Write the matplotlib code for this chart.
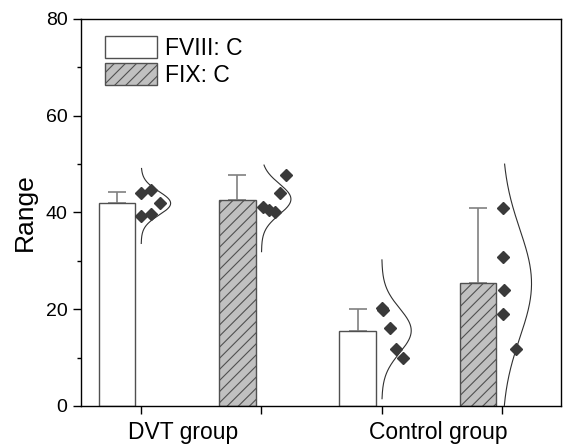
import numpy as np
import matplotlib
matplotlib.use("Agg")
import matplotlib.pyplot as plt

plt.rcParams['font.family'] = ['Liberation Sans', 'DejaVu Sans']
plt.rcParams['hatch.linewidth'] = 0.8

# data
groups = ['DVT group', 'Control group']
series = ['FVIII: C', 'FIX: C']
bar_mean = [41.9, 42.6, 15.5, 25.4]          # FVIII DVT, FIX DVT, FVIII ctrl, FIX ctrl
bar_sd = [2.3, 5.1, 4.5, 15.5]
pts_dvt_fviii = [44.0, 44.6, 42.0, 39.3, 39.6]
pts_dvt_fix = [41.2, 40.6, 40.2, 44.0, 47.8]
pts_ctl_fviii = [20.2, 19.8, 16.1, 11.8, 10.0]
pts_ctl_fix = [40.9, 30.9, 24.0, 19.0, 11.8]
jit_dvt_fviii = [0.0, 0.08, 0.16, 0.0, 0.08]
jit_dvt_fix = [0.01, 0.06, 0.11, 0.15, 0.2]
jit_ctl_fviii = [0.0, 0.01, 0.07, 0.12, 0.18]
jit_ctl_fix = [0.01, 0.01, 0.02, 0.01, 0.12]
curve_lo = [33.6, 31.9, 1.5, 0.0]
curve_hi = [49.1, 49.8, 30.2, 50.0]

points = [pts_dvt_fviii, pts_dvt_fix, pts_ctl_fviii, pts_ctl_fix]
jitter = [jit_dvt_fviii, jit_dvt_fix, jit_ctl_fviii, jit_ctl_fix]
pos = np.array([1, 2, 3, 4])
fills = ['white', '#c0c0c0', 'white', '#c0c0c0']
hatches = ['', '///', '', '///']

fig = plt.figure(figsize=(5.65, 4.48), dpi=100)
ax = fig.add_axes([0.1434, 0.0938, 0.8495, 0.8638])

bars = ax.bar(pos - 0.2, bar_mean, width=0.305, color=fills, edgecolor='#505050',
              linewidth=1.0, hatch=hatches, zorder=2)
ax.errorbar(pos - 0.2, bar_mean, yerr=[np.zeros(4), bar_sd], fmt='none',
            ecolor='#808080', elinewidth=1.2, capsize=6.5, capthick=1.2, zorder=1)

amp = 0.245
for i in range(4):
    vals = np.array(points[i])
    m, s = vals.mean(), vals.std(ddof=1)
    yy = np.linspace(curve_lo[i], curve_hi[i], 200)
    xx = pos[i] + amp * np.exp(-0.5 * ((yy - m) / s) ** 2)
    ax.plot(xx, yy, color='#303030', lw=0.8, zorder=3)
    ax.plot(pos[i] + np.array(jitter[i]), vals, 'D', color='#3a3a3a', ms=6.5,
            mec='#3a3a3a', zorder=4)

ax.set_xlim(0.5, 4.49)
ax.set_ylim(0, 80)
ax.set_yticks([0, 20, 40, 60, 80])
ax.set_yticks([10, 30, 50, 70], minor=True)
ax.set_xticks(pos)
ax.set_xticklabels([])
ax.set_xticks([1.35, 3.47], minor=True)
ax.set_xticklabels(groups, minor=True, fontsize=16.5)
ax.tick_params(axis='x', which='minor', length=0, pad=11)
ax.tick_params(axis='both', which='major', direction='out', length=5.8, width=1,
               labelsize=14, pad=4)
ax.tick_params(axis='y', which='minor', direction='out', length=2.9, width=1)
ax.set_ylabel('Range', fontsize=19, labelpad=6)
for sp in ax.spines.values():
    sp.set_linewidth(1.0)

ax.legend(bars, series, loc='upper left', bbox_to_anchor=(0.05, 0.955), frameon=False,
          fontsize=16.5, handlelength=2.25, handleheight=1.1, labelspacing=0.12,
          handletextpad=0.35, borderpad=0, borderaxespad=0)

fig.savefig('out.png', dpi=100)
